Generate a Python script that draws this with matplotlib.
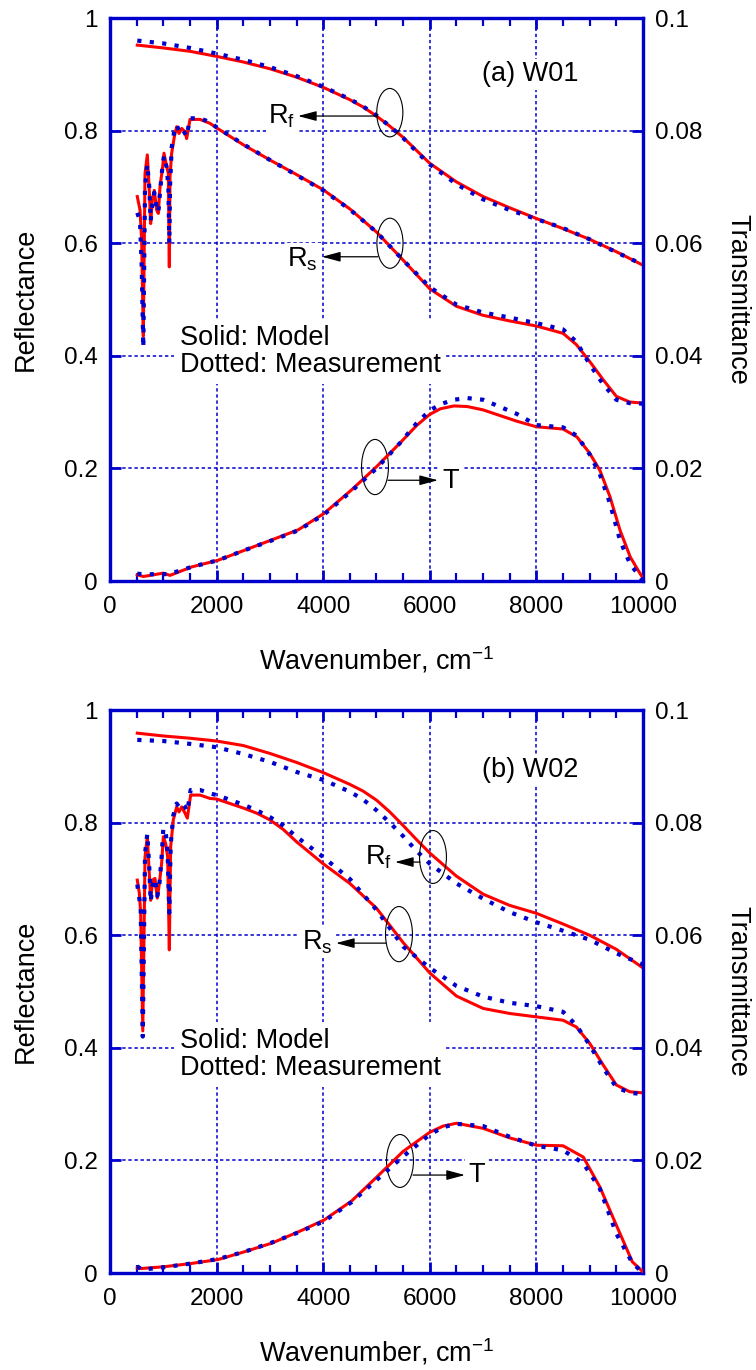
import matplotlib
matplotlib.use('Agg')
import matplotlib.pyplot as plt
from matplotlib.patches import Ellipse
from matplotlib.ticker import MultipleLocator, FormatStrFormatter
import numpy as np

plt.rcParams['font.family'] = ['Liberation Sans', 'DejaVu Sans']
plt.rcParams['mathtext.default'] = 'regular'

BLUE = '#0000CD'
RED = '#FF0000'

# ---------------- Panel (a) W01 ----------------
a_rf_x = [512, 1000, 1500, 2000, 2500, 3000, 3500, 4000, 4500, 4750, 5000, 5250, 5500,
          5750, 6000, 6500, 7000, 7500, 8000, 8500, 9000, 9500, 10000]
a_rf_model = [0.952, 0.947, 0.941, 0.932, 0.922, 0.910, 0.895, 0.877, 0.855, 0.842,
              0.826, 0.808, 0.788, 0.765, 0.742, 0.709, 0.683, 0.663, 0.644, 0.626,
              0.607, 0.585, 0.561]
a_rf_meas = [0.960, 0.955, 0.947, 0.937, 0.926, 0.913, 0.897, 0.878, 0.856, 0.843,
             0.827, 0.808, 0.787, 0.763, 0.740, 0.705, 0.678, 0.659, 0.643, 0.627,
             0.607, 0.584, 0.562]

a_rs_x = [512, 563, 594, 625, 657, 700, 737, 763, 794, 831, 876, 907, 938, 988, 1013,
          1063, 1095, 1113, 1126, 1157, 1207, 1251, 1295, 1345, 1407, 1438, 1501, 1689,
          1876, 2000, 2500, 3000, 3500, 4000, 4500, 5000, 5500, 6000, 6500, 7000, 7500,
          8000, 8500, 8750, 9000, 9250, 9500, 9750, 10000]
a_rs_model = [0.683, 0.659, 0.606, 0.435, 0.724, 0.757, 0.694, 0.635, 0.677, 0.694,
              0.659, 0.653, 0.700, 0.736, 0.760, 0.736, 0.724, 0.558, 0.718, 0.760,
              0.789, 0.807, 0.795, 0.804, 0.798, 0.786, 0.820, 0.820, 0.813, 0.805,
              0.775, 0.748, 0.722, 0.695, 0.661, 0.620, 0.570, 0.519, 0.488, 0.472,
              0.462, 0.453, 0.440, 0.420, 0.390, 0.358, 0.328, 0.318, 0.316]
a_rs_meas = [0.654, 0.640, 0.560, 0.415, 0.700, 0.740, 0.700, 0.640, 0.670, 0.690,
             0.665, 0.655, 0.690, 0.740, 0.755, 0.735, 0.700, 0.600, 0.700, 0.770,
             0.800, 0.810, 0.800, 0.805, 0.795, 0.790, 0.822, 0.822, 0.815, 0.806,
             0.776, 0.748, 0.721, 0.694, 0.660, 0.620, 0.570, 0.522, 0.491, 0.477,
             0.468, 0.458, 0.447, 0.425, 0.385, 0.350, 0.322, 0.316, 0.315]

a_t_x = [512, 625, 1000, 1126, 1532, 2032, 2533, 3033, 3533, 4015, 4534, 5000, 5440,
         5750, 6000, 6200, 6450, 6700, 7000, 7630, 8000, 8500, 8760, 9000, 9190, 9380,
         9570, 9760, 9940, 10000]
a_t_model = [0.0011, 0.0008, 0.0014, 0.0010, 0.0025, 0.0037, 0.0055, 0.0073, 0.0091,
             0.0120, 0.0162, 0.0203, 0.0245, 0.0276, 0.0296, 0.0306, 0.0311, 0.0310,
             0.0304, 0.0284, 0.0274, 0.0270, 0.0256, 0.0227, 0.0197, 0.0150, 0.0090,
             0.0043, 0.0014, 0.0005]
a_t_meas = [0.0013, 0.0012, 0.0012, 0.0013, 0.0025, 0.0037, 0.0055, 0.0072, 0.0090,
            0.0118, 0.0160, 0.0200, 0.0245, 0.0280, 0.0303, 0.0314, 0.0322, 0.0325,
            0.0322, 0.0297, 0.0277, 0.0273, 0.0258, 0.0225, 0.0190, 0.0138, 0.0072,
            0.0030, 0.0008, 0.0000]

# ---------------- Panel (b) W02 ----------------
b_rf_x = [512, 1000, 1500, 2000, 2500, 3000, 3500, 4000, 4500, 4750, 5000, 5250, 5500,
          5750, 6000, 6500, 7000, 7500, 8000, 8500, 9000, 9500, 10000]
b_rf_model = [0.959, 0.954, 0.950, 0.945, 0.937, 0.923, 0.907, 0.889, 0.868, 0.856,
              0.840, 0.819, 0.795, 0.770, 0.746, 0.705, 0.673, 0.653, 0.639, 0.620,
              0.600, 0.575, 0.542]
b_rf_meas = [0.947, 0.945, 0.940, 0.934, 0.922, 0.908, 0.890, 0.876, 0.855, 0.841,
             0.822, 0.800, 0.776, 0.750, 0.727, 0.692, 0.665, 0.641, 0.623, 0.608,
             0.592, 0.568, 0.548]

b_rs_x = [512, 550, 575, 615, 657, 700, 737, 763, 801, 844, 888, 926, 969, 1001, 1044,
          1082, 1113, 1138, 1188, 1251, 1295, 1345, 1407, 1451, 1513, 1689, 1876,
          2000, 2500, 2750, 3000, 3250, 3500, 4000, 4500, 5000, 5500, 6000, 6500, 7000,
          7500, 8000, 8500, 8750, 9000, 9250, 9500, 9750, 10000]
b_rs_model = [0.698, 0.675, 0.640, 0.430, 0.739, 0.775, 0.710, 0.662, 0.698, 0.701,
              0.666, 0.692, 0.728, 0.775, 0.763, 0.739, 0.574, 0.757, 0.805, 0.828,
              0.819, 0.828, 0.817, 0.808, 0.849, 0.849, 0.843,
              0.842, 0.826, 0.817, 0.805, 0.788, 0.766, 0.727, 0.692, 0.648, 0.587,
              0.533, 0.492, 0.470, 0.461, 0.455, 0.449, 0.437, 0.408, 0.370, 0.334,
              0.322, 0.320]
b_rs_meas = [0.690, 0.665, 0.650, 0.420, 0.745, 0.780, 0.720, 0.660, 0.690, 0.700,
             0.670, 0.690, 0.740, 0.790, 0.785, 0.745, 0.640, 0.760, 0.813, 0.834,
             0.828, 0.834, 0.828, 0.820, 0.858, 0.858, 0.852,
             0.849, 0.832, 0.822, 0.810, 0.795, 0.775, 0.739, 0.700, 0.645, 0.580,
             0.542, 0.510, 0.491, 0.480, 0.474, 0.464, 0.440, 0.405, 0.365, 0.330,
             0.320, 0.318]

b_t_x = [512, 594, 1000, 1532, 2032, 2533, 3033, 3533, 4015, 4534, 5000, 5500, 6000,
         6250, 6500, 7000, 7500, 8000, 8500, 8880, 9190, 9500, 9800, 10000]
b_t_model = [0.0009, 0.0008, 0.0011, 0.0017, 0.0024, 0.0038, 0.0053, 0.0073, 0.0094,
             0.0128, 0.0170, 0.0216, 0.0250, 0.0261, 0.0266, 0.0257, 0.0240, 0.0227,
             0.0226, 0.0206, 0.0153, 0.0085, 0.0020, 0.0002]
b_t_meas = [0.0012, 0.0006, 0.0010, 0.0017, 0.0025, 0.0038, 0.0054, 0.0072, 0.0092,
            0.0126, 0.0165, 0.0207, 0.0246, 0.0259, 0.0265, 0.0261, 0.0242, 0.0226,
            0.0218, 0.0195, 0.0150, 0.0070, 0.0018, 0.0000]

x_ticks = [0, 2000, 4000, 6000, 8000, 10000]
r_ticks = [0, 0.2, 0.4, 0.6, 0.8, 1.0]
t_ticks = [0, 0.02, 0.04, 0.06, 0.08, 0.1]

FS_TICK = 17.5
FS_LAB = 19.5

fig = plt.figure(figsize=(7.56, 13.7), dpi=100)


def panel(rect, rf, rs, t, title, title_y, legend_y, notes):
    ax = fig.add_axes(rect)
    ax2 = ax.twinx()
    ax.set_xlim(0, 10000)
    ax.set_ylim(0, 1)
    ax2.set_ylim(0, 0.1)

    # curves
    for (x, m, d) in (rf, rs):
        ax.plot(x, m, color=RED, lw=2.2, zorder=3)
        ax.plot(x, d, color=BLUE, lw=3.0, ls=(0, (1, 2)), zorder=4)
    x, m, d = t
    ax2.plot(x, m, color=RED, lw=2.2, zorder=3)
    ax2.plot(x, d, color=BLUE, lw=3.0, ls=(0, (1, 2)), zorder=4)

    # grid
    ax.grid(True, which='major', color=BLUE, lw=1.1, ls=(0, (2.2, 1.8)))

    # ticks
    ax.set_xticks(x_ticks)
    ax.xaxis.set_minor_locator(MultipleLocator(500))
    ax.set_yticks(r_ticks)
    ax.yaxis.set_major_formatter(FormatStrFormatter('%g'))
    ax2.set_yticks(t_ticks)
    ax2.yaxis.set_major_formatter(FormatStrFormatter('%g'))
    ax.tick_params(axis='x', which='major', direction='in', top=True, length=8,
                   width=2, color=BLUE, labelsize=FS_TICK, pad=11)
    ax.tick_params(axis='x', which='minor', direction='in', top=True, length=6,
                   width=1.6, color=BLUE)
    ax.tick_params(axis='y', which='major', direction='in', left=True, right=False,
                   length=8, width=2, color=BLUE, labelsize=FS_TICK, pad=9)
    ax2.tick_params(axis='y', which='major', direction='in', length=8, width=2,
                    color=BLUE, labelsize=FS_TICK, pad=9)
    for a in (ax, ax2):
        for s in a.spines.values():
            s.set_color(BLUE)
            s.set_linewidth(2.3)

    ax.set_xlabel('Wavenumber, cm$^{-1}$', fontsize=FS_LAB, va='center')
    ax.xaxis.set_label_coords(0.5, -0.14)
    ax.set_ylabel('Reflectance', fontsize=FS_LAB, va='center')
    ax.yaxis.set_label_coords(-0.158, 0.5)
    ax2.set_ylabel('Transmittance', fontsize=FS_LAB, rotation=270, va='center',
                   ha='center')
    ax2.yaxis.set_label_coords(1.178, 0.5)

    box = dict(facecolor='white', edgecolor='none', pad=2)
    ax.text(7890, title_y, title, ha='center', va='center', fontsize=FS_LAB,
            bbox=box, zorder=6)
    ax.text(1310, legend_y, 'Solid: Model\nDotted: Measurement', ha='left',
            va='center', fontsize=FS_LAB, linespacing=1.05,
            bbox=dict(facecolor='white', edgecolor='none', pad=4), zorder=6)

    for (ex, ey, ew, eh, x0, y0, x1, lab, lx, ly, ha) in notes:
        ax.add_patch(Ellipse((ex, ey), ew, eh, fill=False, ec='black', lw=0.8,
                             zorder=7))
        ax.annotate('', xy=(x1, y0), xytext=(x0, y0),
                    arrowprops=dict(arrowstyle='-|>,head_length=0.75,head_width=0.2',
                                    color='black', lw=0.9, shrinkA=0, shrinkB=0,
                                    mutation_scale=15), zorder=7)
        ax.text(lx, ly, lab, ha=ha, va='center', fontsize=FS_LAB, bbox=box, zorder=6)
    return ax


panel([0.1455, 0.5759, 0.7050, 0.4109],
      (a_rf_x, a_rf_model, a_rf_meas), (a_rs_x, a_rs_model, a_rs_meas),
      (a_t_x, a_t_model, a_t_meas), '(a) W01', 0.90, 0.408,
      [(5250, 0.832, 490, 0.086, 5010, 0.826, 3527, 'R$_f$', 3480, 0.826, 'right'),
       (5253, 0.600, 490, 0.089, 5028, 0.576, 3977, 'R$_s$', 3900, 0.572, 'right'),
       (4972, 0.2025, 505, 0.098, 5216, 0.179, 6154, 'T', 6240, 0.178, 'left')])

panel([0.1455, 0.0708, 0.7050, 0.4109],
      (b_rf_x, b_rf_model, b_rf_meas), (b_rs_x, b_rs_model, b_rs_meas),
      (b_t_x, b_t_model, b_t_meas), '(b) W02', 0.893, 0.388,
      [(6060, 0.739, 505, 0.094, 5816, 0.730, 5347, 'R$_f$', 5290, 0.738, 'right'),
       (5422, 0.602, 505, 0.098, 5178, 0.586, 4240, 'R$_s$', 4180, 0.588, 'right'),
       (5441, 0.199, 505, 0.094, 5685, 0.174, 6660, 'T', 6720, 0.174, 'left')])

fig.savefig('out.png', dpi=100)
